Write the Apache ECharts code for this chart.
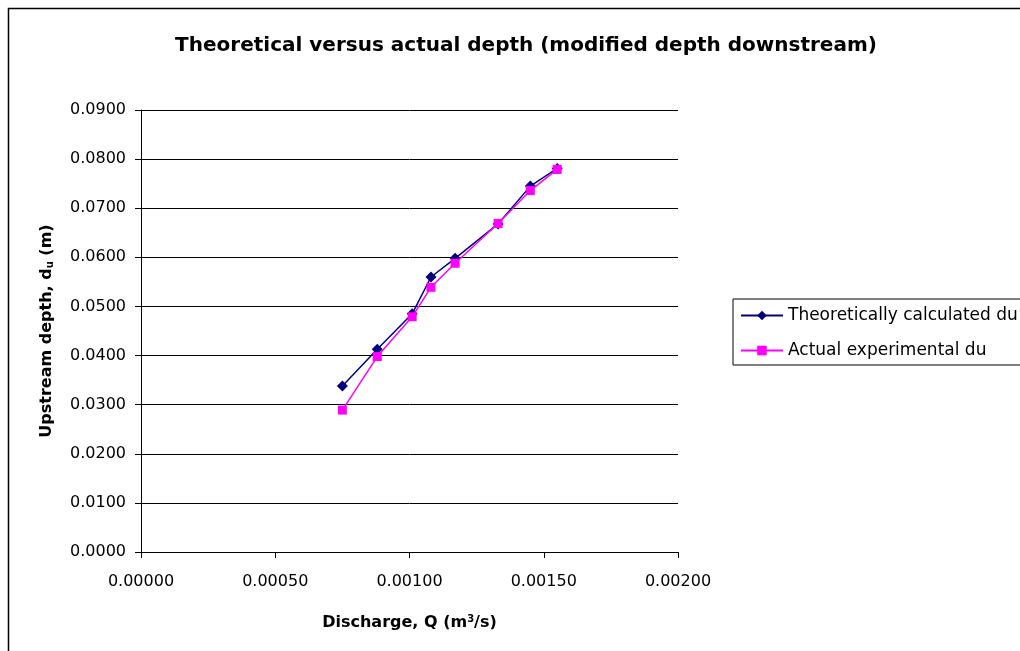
<!DOCTYPE html>
<html>
<head>
<meta charset="utf-8">
<script src="https://cdn.jsdelivr.net/npm/echarts@6/dist/echarts.min.js"></script>
<style>
  html, body { margin: 0; padding: 0; background: #fff; }
  #chart { width: 1020px; height: 651px; }
</style>
</head>
<body>
<div id="chart"></div>
<script>
// Discharge Q (m3/s)
const discharge = [0.00075, 0.00088, 0.00101, 0.00108, 0.00117, 0.00133, 0.00145, 0.00155];
// Upstream depth du (m)
const theoreticalDu = [0.0338, 0.0413, 0.0485, 0.0560, 0.0598, 0.0668, 0.0745, 0.0781];
const actualDu = [0.0289, 0.0398, 0.0479, 0.0539, 0.0588, 0.0669, 0.0736, 0.0779];
const seriesNames = ['Theoretically calculated du', 'Actual experimental du'];

function pairs(xs, ys) {
    return xs.map((x, i) => [x, ys[i]]);
}

const chart = echarts.init(document.getElementById('chart'));

// the reference text is wide, DejaVu Sans fits it best
const font = '"DejaVu Sans", sans-serif';

const option = {
    backgroundColor: '#fff',
    animation: false,
    title: {
        text: 'Theoretical versus actual depth (modified depth downstream)',
        left: 521,
        textAlign: 'center',
        top: 31,
        textStyle: { fontFamily: font, fontSize: 20, fontWeight: 'bold', color: '#000' }
    },
    graphic: [{
        type: 'rect',
        shape: { x: 8.5, y: 8.5, width: 1030, height: 660 },
        style: { fill: 'none', stroke: '#000', lineWidth: 1.5 },
        silent: true
    }],
    legend: {
        orient: 'vertical',
        left: 733,
        top: 299,
        padding: [8, 40, 6, 7],
        itemGap: 18,
        itemWidth: 42,
        itemHeight: 12,
        borderColor: '#000',
        borderWidth: 1,
        textStyle: { fontFamily: font, fontSize: 17, color: '#000', padding: [0, 0, 0, 0] },
        data: seriesNames
    },
    grid: { left: 141, right: 342, top: 110, bottom: 99 },
    xAxis: {
        type: 'value',
        min: 0,
        max: 0.002,
        interval: 0.0005,
        name: '{b|Discharge, Q (m}{sup|3}{b|/s)}',
        nameLocation: 'middle',
        nameGap: 62,
        nameTextStyle: {
            rich: {
                b: { fontFamily: font, fontSize: 16, fontWeight: 'bold', color: '#000' },
                sup: { fontFamily: font, fontSize: 10, fontWeight: 'bold', color: '#000', verticalAlign: 'top', padding: [0, 0, 8, 0] }
            }
        },
        axisLine: { show: true, onZero: false, lineStyle: { color: '#000', width: 1 } },
        axisTick: { show: true, inside: false, length: 6, lineStyle: { color: '#000' } },
        splitLine: { show: false },
        axisLabel: {
            fontFamily: font, fontSize: 16, color: '#000', margin: 22,
            formatter: v => v.toFixed(5)
        }
    },
    yAxis: {
        type: 'value',
        min: 0,
        max: 0.09,
        interval: 0.01,
        name: '{b|Upstream depth, d}{sub|u}{b| (m)}',
        nameLocation: 'middle',
        nameRotate: 90,
        nameGap: 86,
        nameTextStyle: {
            rich: {
                b: { fontFamily: font, fontSize: 16, fontWeight: 'bold', color: '#000' },
                sub: { fontFamily: font, fontSize: 10, fontWeight: 'bold', color: '#000', verticalAlign: 'bottom', padding: [6, 0, 0, 0] }
            }
        },
        axisLine: { show: true, lineStyle: { color: '#000', width: 1 } },
        axisTick: { show: true, inside: false, length: 6, lineStyle: { color: '#000' } },
        splitLine: { show: true, lineStyle: { color: '#000', width: 1 } },
        axisLabel: {
            fontFamily: font, fontSize: 16, color: '#000', margin: 15,
            formatter: v => v.toFixed(4)
        }
    },
    series: [
        {
            name: seriesNames[0],
            type: 'line',
            data: pairs(discharge, theoreticalDu),
            symbol: 'diamond',
            symbolSize: 11,
            lineStyle: { color: '#000080', width: 1.5 },
            itemStyle: { color: '#000080' },
            z: 2
        },
        {
            name: seriesNames[1],
            type: 'line',
            data: pairs(discharge, actualDu),
            symbol: 'rect',
            symbolSize: 9,
            lineStyle: { color: '#FF00FF', width: 1.5 },
            itemStyle: { color: '#FF00FF' },
            z: 3
        }
    ]
};

chart.setOption(option);
</script>
</body>
</html>
